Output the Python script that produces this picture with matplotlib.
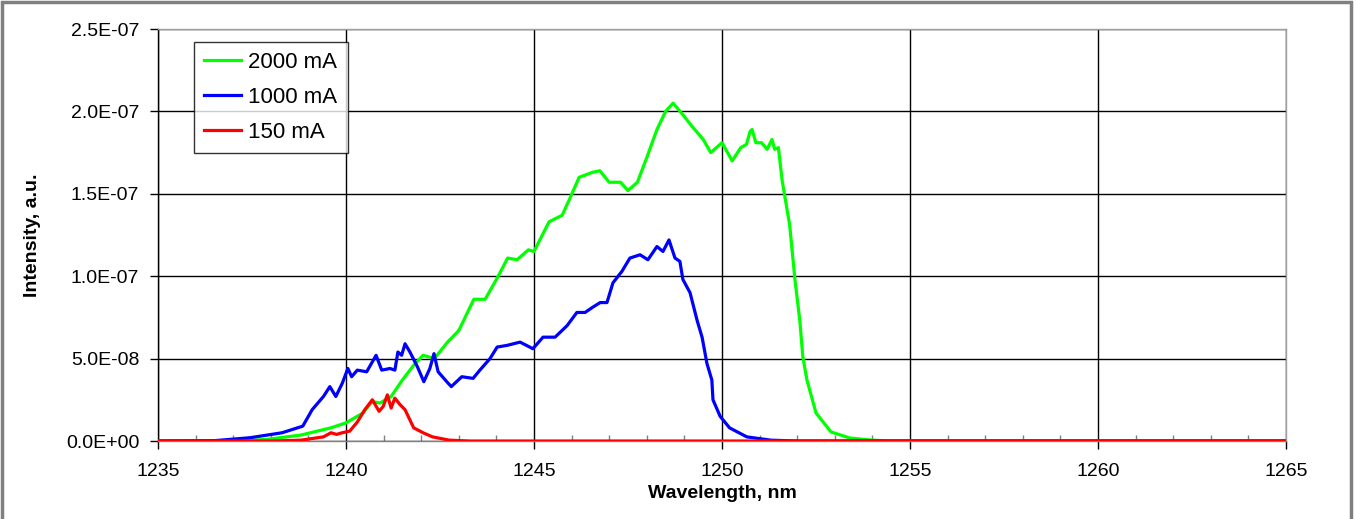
import matplotlib
matplotlib.use("Agg")
import matplotlib.pyplot as plt
from matplotlib.ticker import MultipleLocator, FuncFormatter
from matplotlib.patches import Rectangle

plt.rcParams['font.family'] = ['Liberation Sans', 'DejaVu Sans']

# 2000 mA (green), values in units of 1e-8
wl_2000 = [1235.0, 1236.5, 1237.5, 1237.9, 1238.8, 1239.6, 1240.0, 1240.45, 1240.7, 1240.9,
           1241.2, 1241.5, 1241.8, 1242.05, 1242.35, 1242.7, 1243.0, 1243.4, 1243.7, 1244.0,
           1244.3, 1244.55, 1244.85, 1245.0, 1245.4, 1245.75, 1245.95, 1246.2, 1246.55, 1246.75,
           1247.0, 1247.3, 1247.5, 1247.75, 1248.0, 1248.27, 1248.5, 1248.7, 1248.96, 1249.2,
           1249.5, 1249.7, 1250.0, 1250.27, 1250.5, 1250.65, 1250.75, 1250.8, 1250.9, 1251.05,
           1251.2, 1251.33, 1251.4, 1251.5, 1251.6, 1251.8, 1251.94, 1252.07, 1252.15, 1252.26,
           1252.5, 1252.9, 1253.4, 1254.0, 1254.5, 1265.0]
int_2000 = [0.0, 0.01, 0.05, 0.1, 0.36, 0.8, 1.1, 1.7, 2.4, 2.3,
            2.7, 3.7, 4.6, 5.2, 5.0, 6.0, 6.7, 8.6, 8.6, 9.8,
            11.1, 11.0, 11.6, 11.5, 13.3, 13.7, 14.7, 16.0, 16.3, 16.4,
            15.7, 15.7, 15.2, 15.7, 17.2, 18.9, 20.0, 20.5, 19.8, 19.1,
            18.3, 17.5, 18.1, 17.0, 17.8, 18.0, 18.8, 18.9, 18.1, 18.1,
            17.7, 18.3, 17.7, 17.8, 15.8, 13.1, 9.8, 7.3, 5.1, 3.7,
            1.7, 0.55, 0.18, 0.05, 0.0, 0.0]

# 1000 mA (blue)
wl_1000 = [1235.0, 1236.5, 1237.45, 1238.3, 1238.85, 1239.1, 1239.4, 1239.57, 1239.73, 1239.9,
           1240.05, 1240.15, 1240.3, 1240.55, 1240.8, 1240.95, 1241.17, 1241.3, 1241.38, 1241.48,
           1241.57, 1241.7, 1241.9, 1242.07, 1242.23, 1242.34, 1242.45, 1242.68, 1242.8, 1243.08,
           1243.38, 1243.56, 1243.83, 1244.02, 1244.28, 1244.63, 1244.97, 1245.24, 1245.56, 1245.88,
           1246.14, 1246.36, 1246.55, 1246.76, 1246.94, 1247.1, 1247.34, 1247.55, 1247.82, 1248.03,
           1248.27, 1248.43, 1248.59, 1248.75, 1248.88, 1248.96, 1249.15, 1249.34, 1249.47, 1249.6,
           1249.73, 1249.76, 1249.95, 1250.2, 1250.66, 1251.3, 1252.0, 1265.0]
int_1000 = [0.0, 0.02, 0.2, 0.5, 0.9, 1.9, 2.7, 3.3, 2.7, 3.5,
            4.4, 3.9, 4.3, 4.2, 5.2, 4.3, 4.4, 4.3, 5.4, 5.2,
            5.9, 5.4, 4.5, 3.6, 4.4, 5.3, 4.2, 3.6, 3.3, 3.9,
            3.8, 4.3, 5.0, 5.7, 5.8, 6.0, 5.6, 6.3, 6.3, 7.0,
            7.8, 7.8, 8.1, 8.4, 8.4, 9.6, 10.3, 11.1, 11.3, 11.0,
            11.8, 11.5, 12.2, 11.1, 10.9, 9.8, 9.0, 7.3, 6.3, 4.7,
            3.7, 2.5, 1.5, 0.8, 0.25, 0.05, 0.0, 0.0]

# 150 mA (red)
wl_150 = [1235.0, 1238.0, 1238.8, 1239.4, 1239.6, 1239.75, 1239.9, 1240.1, 1240.3, 1240.5,
          1240.7, 1240.88, 1240.99, 1241.1, 1241.2, 1241.3, 1241.44, 1241.57, 1241.8, 1242.05,
          1242.3, 1242.75, 1243.3, 1265.0]
int_150 = [0.0, 0.0, 0.05, 0.25, 0.5, 0.4, 0.5, 0.6, 1.15, 1.9,
           2.5, 1.8, 2.1, 2.8, 2.0, 2.6, 2.2, 1.9, 0.8, 0.5,
           0.25, 0.05, 0.0, 0.0]

series_labels = ['2000 mA', '1000 mA', '150 mA']
x_ticks = [1235, 1240, 1245, 1250, 1255, 1260, 1265]
y_ticks = [0.0, 0.5e-7, 1.0e-7, 1.5e-7, 2.0e-7, 2.5e-7]

fig = plt.figure(figsize=(13.56, 5.19), dpi=100)
ax = fig.add_axes([158/1356, 1 - 441/519, (1286-158)/1356, (441-29)/519])

scale = 1e-8
ax.plot(wl_2000, [v*scale for v in int_2000], color='#00ff00', lw=2.3, label=series_labels[0], zorder=3)
ax.plot(wl_1000, [v*scale for v in int_1000], color='#0000ff', lw=2.3, label=series_labels[1], zorder=4)
ax.plot(wl_150, [v*scale for v in int_150], color='#ff0000', lw=2.3, label=series_labels[2], zorder=5)

ax.set_xlim(1235, 1265)
ax.set_ylim(0, 2.5e-7)
ax.set_xticks(x_ticks)
ax.set_yticks(y_ticks)
ax.xaxis.set_minor_locator(MultipleLocator(1))
ax.yaxis.set_major_formatter(FuncFormatter(lambda v, p: f"{v:.1E}"))

ax.grid(True, which='major', color='black', lw=1.0)
ax.set_axisbelow(True)

for s in ['top', 'right']:
    ax.spines[s].set_color('#a0a0a0')
ax.spines['bottom'].set_color('#808080')
ax.spines['left'].set_color('black')
for s in ax.spines.values():
    s.set_linewidth(1.0)

ax.tick_params(axis='both', which='major', direction='out', length=6, width=1, labelsize=14, colors='black')
ax.tick_params(axis='y', which='major', pad=7.5)
ax.tick_params(axis='x', which='major', pad=10)
ax.tick_params(axis='x', which='minor', direction='in', length=4, width=1, color='#808080')

ax.set_xlabel('Wavelength, nm', fontsize=14, fontweight='bold')
ax.xaxis.set_label_coords(0.5, -0.108)
ax.set_ylabel('Intensity, a.u.', fontsize=14, fontweight='bold')
ax.yaxis.set_label_coords(-0.1035, 0.5)

leg = ax.legend(loc='upper left', bbox_to_anchor=((194-158)/1128, 1 - (42-29)/412),
                frameon=True, fancybox=False, edgecolor='black', fontsize=16,
                handlelength=1.65, handletextpad=0.35, borderpad=0.45, labelspacing=0.62,
                borderaxespad=0)
leg.get_frame().set_linewidth(1.0)

# outer figure border
fig.patches.append(Rectangle((2/1356, -0.01), (1351-2)/1356, 1 - 2/519 + 0.01,
                             transform=fig.transFigure, fill=False,
                             edgecolor='#808080', lw=2.5))

fig.savefig('out.png', dpi=100, facecolor='white')
